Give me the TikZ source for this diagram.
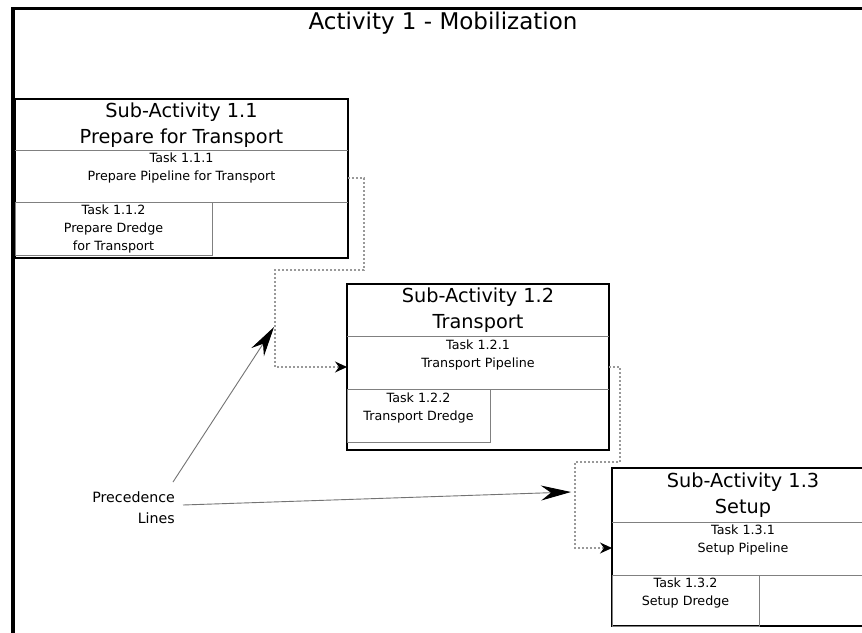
\documentclass[tikz,border=0pt]{standalone}
\usepackage{fontspec}
\setmainfont{DejaVu Sans}
\usetikzlibrary{arrows.meta,calc}
\begin{document}
\begin{tikzpicture}[x=1pt,y=-1pt,
  frame/.style={draw=black,line width=3.5pt},
  subbox/.style={draw=black,line width=2.6pt,fill=white,inner sep=0pt,outer sep=0pt,anchor=north west},
  divider/.style={draw=black!50,line width=0.9pt},
  cell/.style={draw=black!50,line width=0.9pt,inner sep=0pt,outer sep=0pt,anchor=north west},
  titletxt/.style={font=\fontsize{23}{27}\selectfont,inner sep=0pt},
  subtxt/.style={font=\fontsize{19.3}{26}\selectfont,align=center,inner sep=0pt},
  tasktxt/.style={font=\fontsize{12.7}{18}\selectfont,align=center,inner sep=0pt},
  prectxt/.style={font=\fontsize{14.2}{21}\selectfont,align=right,inner sep=0pt},
  dep/.style={draw=black!40,line width=1.1pt,dash pattern=on 2pt off 2pt,-{Stealth[length=12pt,width=11pt,inset=4pt,color=black]}},
  prec/.style={draw=black!55,line width=0.9pt,-{Stealth[length=30pt,width=15pt,inset=10pt,color=black]}}
]
\useasboundingbox (0,0) rectangle (862,632);
\clip (0,0) rectangle (862,632);
\fill[white] (0,0) rectangle (862,632);

% outer frame
\draw[frame] (13,8.5) rectangle (873,660);
\node[titletxt] (title) at (443,23) {Activity 1 - Mobilization};

% Sub-Activity 1.1
\node[subbox,minimum width=333pt,minimum height=159pt] (s11) at (15,99) {};
\draw[divider] (15,150) -- (348,150);
\draw[divider] (15,202) -- (348,202);
\node[cell,minimum width=197pt,minimum height=53pt] (c112) at (15,202) {};
\node[subtxt] (h11) at (181.5,125) {Sub-Activity 1.1\\Prepare for Transport};
\node[tasktxt] (t111) at (181.5,168) {Task 1.1.1\\Prepare Pipeline for Transport};
\node[tasktxt] (t112) at (113.5,229) {Task 1.1.2\\Prepare Dredge\\for Transport};

% Sub-Activity 1.2
\node[subbox,minimum width=262pt,minimum height=166pt] (s12) at (347,284) {};
\draw[divider] (347,336) -- (609,336);
\draw[divider] (347,389) -- (609,389);
\node[cell,minimum width=143pt,minimum height=53pt] (c122) at (347,389) {};
\node[subtxt] (h12) at (478,310) {Sub-Activity 1.2\\Transport};
\node[tasktxt] (t121) at (478,354.5) {Task 1.2.1\\Transport Pipeline};
\node[tasktxt] (t122) at (418.5,408) {Task 1.2.2\\Transport Dredge};

% Sub-Activity 1.3
\node[subbox,minimum width=262pt,minimum height=158pt] (s13) at (612,468) {};
\draw[divider] (612,522) -- (874,522);
\draw[divider] (612,575) -- (874,575);
\node[cell,minimum width=147pt,minimum height=51pt] (c132) at (612,575) {};
\node[subtxt] (h13) at (743,495) {Sub-Activity 1.3\\Setup};
\node[tasktxt] (t131) at (743,539.5) {Task 1.3.1\\Setup Pipeline};
\node[tasktxt] (t132) at (685.5,592.5) {Task 1.3.2\\Setup Dredge};

% dependency connectors
\coordinate (d1a) at (s11.east |- 0,178);
\coordinate (d1b) at (s12.west |- 0,367);
\draw[dep] (d1a) -- (364,178) -- (364,270) -- (275,270) -- (275,367) -- (d1b);
\coordinate (d2a) at (s12.east |- 0,367);
\coordinate (d2b) at (s13.west |- 0,548);
\draw[dep] (d2a) -- (620,367) -- (620,462) -- (575,462) -- (575,548) -- (d2b);

% precedence lines
\node[prectxt,anchor=east] (prec) at (175,508) {Precedence\\Lines};
\coordinate (p1) at (274,327);
\coordinate (p2) at (571,492);
\coordinate (q1) at (173,482);
\coordinate (q2) at (183,505);
\draw[prec] (q1) -- (p1);
\draw[prec] (q2) -- (p2);
\end{tikzpicture}
\end{document}
